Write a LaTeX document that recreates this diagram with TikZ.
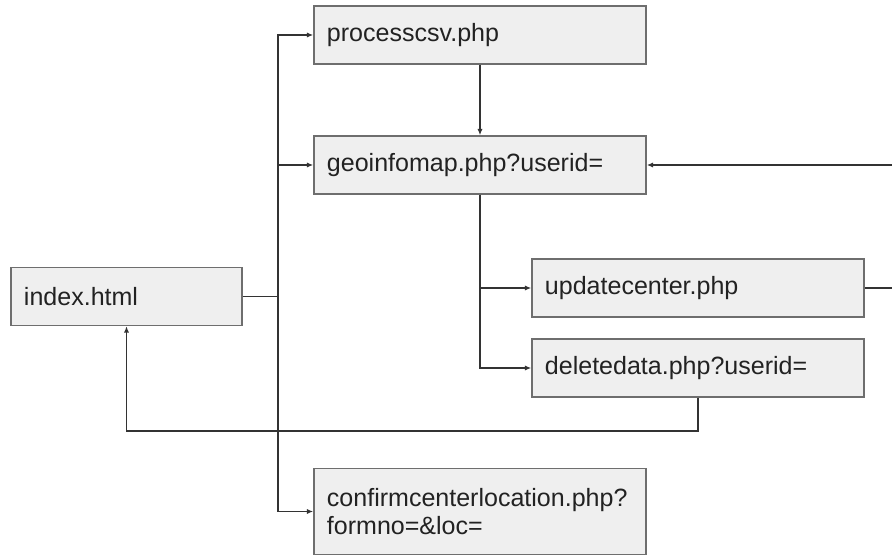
\documentclass[tikz,border=0pt]{standalone}
\usepackage{fontspec}
\setmainfont{Liberation Sans}
\usetikzlibrary{arrows.meta, positioning, calc}
\definecolor{cfill}{HTML}{EFEFEF}
\definecolor{cedge}{HTML}{6E6E6E}
\definecolor{cline}{HTML}{333333}
\definecolor{ctext}{HTML}{222222}
\tikzset{
  every picture/.style={font=\fontsize{17.8}{19.5}\selectfont, line width=1pt},
  page/.style={draw=cedge, fill=cfill, text=ctext, align=left, inner xsep=0.325cm, minimum height=1.45cm, text width=#1},
  page/.default=7.65cm,
  arrow/.style={-{Latex[length=1.6mm, width=1.3mm]}, draw=cline},
  link/.style={draw=cline},
}

\begin{document}
\begin{tikzpicture}[x=0.025cm, y=-0.025cm]
  \useasboundingbox (0,0) rectangle (892,556);
  \clip (0,0) rectangle (892,556);

  \node[page=5.125cm] (index) at (126.5,296.5) {index.html};
  \node[page] (proc) at (480,35) {processcsv.php};
  \node[page] (geo) at (480,165) {geoinfomap.php?userid=};
  \node[page] (upd) at (698,288) {updatecenter.php};
  \node[page] (del) at (698,368) {deletedata.php?userid=};
  \node[page, minimum height=2.15cm] (confirm) at (480,511.5) {confirmcenterlocation.php?\\formno=\&loc=};

  % trunk out of index.html
  \coordinate (trunk) at (278,296.5);
  \draw[link] (index.east) -- (trunk);
  \draw[arrow] (trunk) |- (proc.west);
  \draw[arrow] (trunk) |- (geo.west);
  \draw[arrow] (trunk) |- (confirm.west);

  \draw[arrow] (proc.south) -- (geo.north);
  \draw[arrow] (geo.south) |- (upd.west);
  \draw[arrow] (geo.south) |- (del.west);

  % loop back to geoinfomap, runs off the right edge
  \coordinate (loop) at (905,230);
  \draw[arrow] (upd.east) -| (loop) |- (geo.east);

  % back to index.html
  \coordinate (ret) at (126.5,431);
  \draw[arrow] (del.south) |- (ret) -- (index.south);
\end{tikzpicture}
\end{document}
